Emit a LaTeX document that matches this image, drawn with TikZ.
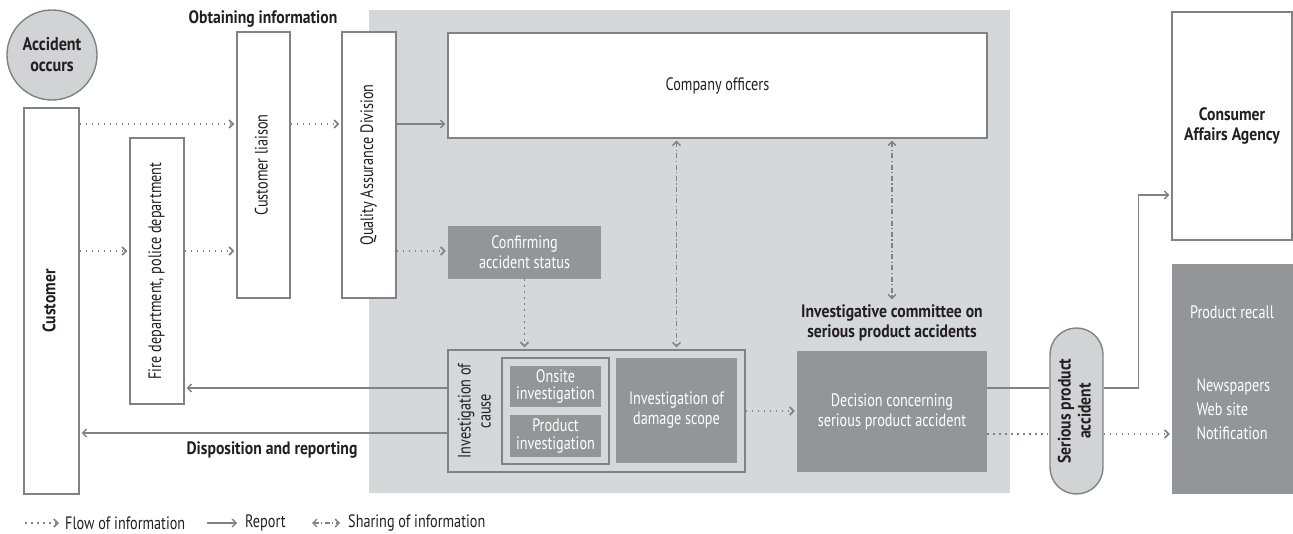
\documentclass[tikz,border=0pt]{standalone}
\usepackage{fontspec}
\setmainfont{PT Sans}[FakeStretch=0.79,BoldFeatures={FakeStretch=0.87}]
\usetikzlibrary{arrows.meta,positioning,calc}

\definecolor{linegray}{HTML}{808285}
\definecolor{boxgray}{HTML}{939598}
\definecolor{bggray}{HTML}{D5D8DA}
\definecolor{pillgray}{HTML}{D1D3D4}
\definecolor{txt}{HTML}{231F20}

\newcommand{\fs}{\fontsize{18}{20}\selectfont}
\newcommand{\fss}{\fontsize{18}{17.5}\selectfont}
\newcommand{\vtxt}[1]{\rotatebox{90}{\begin{tabular}{@{}c@{}}#1\end{tabular}}}

\begin{document}
\begin{tikzpicture}[x=1pt,y=-1pt,>={Straight Barb[length=4pt,width=8pt]},
  every node/.style={font=\fs,text=txt},
  plain/.style={draw=linegray,line width=1.4pt,fill=white,inner sep=0pt},
  dark/.style={fill=boxgray,text=white,inner sep=0pt,align=center},
  sz/.style 2 args={minimum width=#1,minimum height=#2},
  head/.style={font=\fs\bfseries},
  flow/.style={draw=linegray,line width=1.7pt,dash pattern=on 1.7pt off 4.3pt,->,shorten >=2pt},
  report/.style={draw=linegray,line width=1.4pt,->,shorten >=2pt},
  share/.style={draw=linegray,line width=1.3pt,dash pattern=on 5pt off 2.5pt on 1.2pt off 2.5pt,<->,shorten >=2pt,shorten <=2pt}]
  \useasboundingbox (0,0) rectangle (1293,534);
  \fill[bggray] (369,10) rectangle (1010,493);

  % left column
  \node[plain,circle,fill=pillgray,minimum size=90,align=center,
    font=\fontsize{18.5}{21}\selectfont\bfseries] (acc) at (52,55) {Accident\\occurs};
  \node[plain,sz={55}{386}] (cust) at (51.5,301) {\vtxt{\bfseries Customer}};
  \node[plain,sz={54}{266}] (fire) at (157,271) {\vtxt{Fire department, police department}};
  \node[plain,sz={53}{266}] (liaison) at (263.5,165) {\vtxt{Customer liaison}};
  \node[plain,sz={54}{266}] (qa) at (369,165) {\vtxt{Quality Assurance Division}};
  \node[head] (obtain) at (263,19) {Obtaining information};
  \node[head] (dispo) at (272,450) {Disposition and reporting};

  % company side
  \node[plain,sz={539}{105}] (officers) at (717.5,85.5) {Company officers};
  \node[dark,sz={153}{53}] (confirm) at (524.5,252.5) {Confirming\\accident status};
  \node[plain,fill=bggray,sz={297}{122}] (cause) at (596.5,411) {};
  \node (causetxt) at (476.5,411) {\vtxt{Investigation of\\cause}};
  \node[plain,fill=none,sz={107}{106}] (inner) at (555.5,411) {};
  \node[dark,sz={91}{41},font=\fss] (onsite) at (555.5,386.5) {Onsite\\investigation};
  \node[dark,sz={91}{42},font=\fss] (product) at (555.5,436) {Product\\investigation};
  \node[dark,sz={121}{105}] (damage) at (676.5,410.5) {Investigation of\\damage scope};
  \node[head,align=center] (committee) at (892,323) {Investigative committee on\\serious product accidents};
  \node[dark,sz={190}{121}] (decision) at (892,411.5) {Decision concerning\\serious product accident};

  % right side
  \node[plain,rounded corners=26.5,fill=pillgray,sz={53}{166}] (pill) at (1076.5,411)
    {\vtxt{\bfseries Serious product\\\bfseries accident}};
  \node[plain,sz={120}{228},align=center,font=\fs\bfseries] (caa) at (1232,126) {Consumer\\Affairs Agency};
  \node[dark,sz={121}{230}] (recall) at (1232.5,379) {};
  \node[text=white] (recalltxt) at (1232,312) {Product recall};
  \node[text=white,anchor=west,align=left,font=\fontsize{18}{24}\selectfont] (media) at (1193,409)
    {Newspapers\\Web site\\Notification};

  % connectors
  \draw[flow] (cust.east |- 0,124) -- (liaison.west |- 0,124);
  \draw[flow] (liaison.east |- 0,124) -- (qa.west |- 0,124);
  \draw[report] (qa.east |- 0,124) -- (officers.west |- 0,124);
  \draw[flow] (cust.east |- 0,251) -- (fire.west |- 0,251);
  \draw[flow] (fire.east |- 0,251) -- (liaison.west |- 0,251);
  \draw[flow] (qa.east |- 0,251) -- (confirm.west |- 0,251);
  \draw[flow] (confirm.south) -- (confirm.south |- cause.north);
  \draw[share] (officers.south -| damage.north) -- (damage.north |- cause.north);
  \draw[share] (officers.south -| committee.north) -- (committee.north);
  \draw[flow] (cause.east) -- (decision.west |- cause.east);
  \draw[report] (cause.west |- 0,388) -- (fire.east |- 0,388);
  \draw[report] (cause.west |- 0,433) -- (cust.east |- 0,433);
  \draw[draw=linegray,line width=1.4pt] (decision.east |- 0,388) -- (pill.west |- 0,388);
  \draw[report] (pill.east |- 0,388) -- ++(35,0) |- (caa.west |- 0,195);
  \draw[flow,-] (decision.east |- 0,434) -- (pill.west |- 0,434);
  \draw[flow] (pill.east |- 0,434) -- (recall.west |- 0,434);

  % legend
  \coordinate (lf) at (25,523);
  \coordinate (lr) at (207,523);
  \coordinate (ls) at (310,523);
  \node[anchor=west,inner sep=0pt] (lflow) at (65,523) {Flow of information};
  \node[anchor=west,inner sep=0pt] (lrep) at (245,523) {Report};
  \node[anchor=west,inner sep=0pt] (lshare) at (348,523) {Sharing of information};
  \draw[flow,shorten >=6pt] (lf) -- (lflow.west);
  \draw[report,shorten >=8pt] (lr) -- (lrep.west);
  \draw[share,shorten >=8pt] (ls) -- (lshare.west);
\end{tikzpicture}
\end{document}
